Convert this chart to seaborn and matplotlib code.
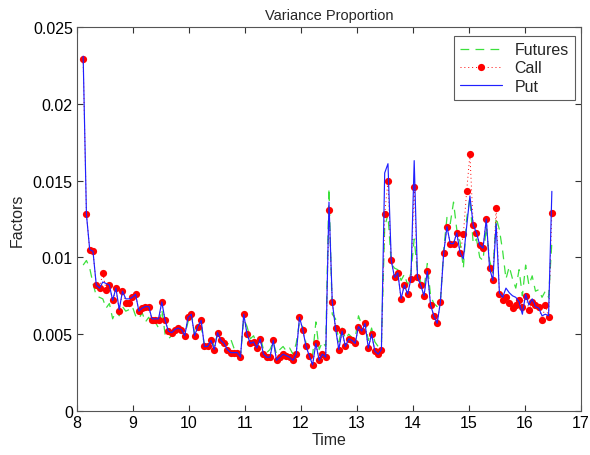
import numpy as np
import pandas as pd
import matplotlib
matplotlib.use("Agg")
import matplotlib.pyplot as plt
import seaborn as sns

# Intraday variance-proportion factors (sampled roughly every 3.5 minutes)
t_start, t_end = 8.11, 16.48

call = [
    0.0229, 0.0128, 0.0105, 0.0104, 0.0082, 0.0080, 0.0090, 0.0079, 0.0082, 0.0072,
    0.0080, 0.0065, 0.0078, 0.0070, 0.0070, 0.0074, 0.0076, 0.0065, 0.0067, 0.0068,
    0.0068, 0.0059, 0.0059, 0.0059, 0.0071, 0.0059, 0.0052, 0.0051, 0.0053, 0.0054,
    0.0053, 0.0049, 0.0061, 0.0063, 0.0049, 0.0055, 0.0059, 0.0042, 0.0042, 0.0046,
    0.0040, 0.0051, 0.0046, 0.0044, 0.0040, 0.0038, 0.0038, 0.0038, 0.0035, 0.0063,
    0.0050, 0.0044, 0.0045, 0.0041, 0.0047, 0.0037, 0.0035, 0.0035, 0.0046, 0.0033,
    0.0035, 0.0037, 0.0036, 0.0035, 0.0033, 0.0037, 0.0061, 0.0053, 0.0042, 0.0036,
    0.0030, 0.0044, 0.0033, 0.0037, 0.0035, 0.0131, 0.0071, 0.0054, 0.0040, 0.0052,
    0.0042, 0.0047, 0.0046, 0.0044, 0.0055, 0.0052, 0.0057, 0.0041, 0.0050, 0.0039,
    0.0037, 0.0040, 0.0128, 0.0150, 0.0098, 0.0087, 0.0090, 0.0073, 0.0082, 0.0076,
    0.0086, 0.0146, 0.0087, 0.0082, 0.0075, 0.0091, 0.0069, 0.0062, 0.0057, 0.0071,
    0.0103, 0.0120, 0.0109, 0.0109, 0.0116, 0.0103, 0.0115, 0.0143, 0.0167, 0.0121,
    0.0116, 0.0108, 0.0106, 0.0125, 0.0093, 0.0085, 0.0132, 0.0076, 0.0072, 0.0074,
    0.0070, 0.0067, 0.0069, 0.0072, 0.0068, 0.0075, 0.0066, 0.0071, 0.0069, 0.0068,
    0.0059, 0.0069, 0.0061, 0.0129,
]

put = [
    0.0231, 0.0128, 0.0105, 0.0104, 0.0082, 0.0080, 0.0084, 0.0083, 0.0082, 0.0072,
    0.0080, 0.0066, 0.0078, 0.0073, 0.0073, 0.0074, 0.0076, 0.0065, 0.0067, 0.0068,
    0.0068, 0.0060, 0.0060, 0.0060, 0.0071, 0.0059, 0.0052, 0.0051, 0.0053, 0.0054,
    0.0053, 0.0049, 0.0061, 0.0063, 0.0049, 0.0055, 0.0059, 0.0042, 0.0042, 0.0046,
    0.0040, 0.0051, 0.0046, 0.0044, 0.0040, 0.0038, 0.0038, 0.0038, 0.0035, 0.0063,
    0.0050, 0.0044, 0.0045, 0.0041, 0.0047, 0.0037, 0.0035, 0.0035, 0.0046, 0.0033,
    0.0035, 0.0037, 0.0036, 0.0035, 0.0033, 0.0037, 0.0061, 0.0053, 0.0042, 0.0036,
    0.0030, 0.0044, 0.0033, 0.0037, 0.0035, 0.0136, 0.0071, 0.0054, 0.0040, 0.0052,
    0.0042, 0.0047, 0.0046, 0.0044, 0.0055, 0.0052, 0.0057, 0.0041, 0.0050, 0.0039,
    0.0037, 0.0040, 0.0155, 0.0161, 0.0098, 0.0087, 0.0090, 0.0073, 0.0082, 0.0076,
    0.0086, 0.0163, 0.0087, 0.0082, 0.0075, 0.0091, 0.0069, 0.0062, 0.0057, 0.0071,
    0.0103, 0.0120, 0.0109, 0.0109, 0.0116, 0.0103, 0.0099, 0.0120, 0.0140, 0.0121,
    0.0116, 0.0108, 0.0106, 0.0125, 0.0093, 0.0085, 0.0122, 0.0077, 0.0074, 0.0080,
    0.0077, 0.0075, 0.0074, 0.0071, 0.0063, 0.0076, 0.0069, 0.0073, 0.0068, 0.0067,
    0.0062, 0.0063, 0.0062, 0.0143,
]

futures = [
    0.0095, 0.0098, 0.0093, 0.0083, 0.0075, 0.0074, 0.0073, 0.0067, 0.0070, 0.0060,
    0.0065, 0.0062, 0.0068, 0.0065, 0.0066, 0.0068, 0.0062, 0.0060, 0.0064, 0.0058,
    0.0061, 0.0056, 0.0058, 0.0054, 0.0066, 0.0050, 0.0047, 0.0049, 0.0051, 0.0050,
    0.0052, 0.0049, 0.0058, 0.0064, 0.0050, 0.0053, 0.0055, 0.0043, 0.0044, 0.0047,
    0.0042, 0.0050, 0.0047, 0.0046, 0.0043, 0.0047, 0.0041, 0.0038, 0.0036, 0.0060,
    0.0055, 0.0047, 0.0049, 0.0043, 0.0049, 0.0040, 0.0038, 0.0040, 0.0045, 0.0037,
    0.0040, 0.0042, 0.0039, 0.0041, 0.0037, 0.0044, 0.0058, 0.0055, 0.0044, 0.0040,
    0.0036, 0.0058, 0.0040, 0.0045, 0.0042, 0.0145, 0.0063, 0.0060, 0.0045, 0.0054,
    0.0047, 0.0050, 0.0048, 0.0047, 0.0062, 0.0056, 0.0058, 0.0046, 0.0054, 0.0045,
    0.0042, 0.0044, 0.0120, 0.0128, 0.0096, 0.0093, 0.0092, 0.0085, 0.0089, 0.0082,
    0.0090, 0.0112, 0.0090, 0.0084, 0.0080, 0.0096, 0.0075, 0.0070, 0.0068, 0.0072,
    0.0105, 0.0126, 0.0122, 0.0136, 0.0118, 0.0110, 0.0093, 0.0125, 0.0139, 0.0109,
    0.0112, 0.0100, 0.0098, 0.0120, 0.0098, 0.0090, 0.0126, 0.0118, 0.0104, 0.0086,
    0.0094, 0.0086, 0.0080, 0.0092, 0.0075, 0.0095, 0.0082, 0.0088, 0.0078, 0.0079,
    0.0074, 0.0078, 0.0074, 0.0110,
]

x_ticks = [8, 9, 10, 11, 12, 13, 14, 15, 16, 17]
y_ticks = [0, 0.005, 0.01, 0.015, 0.02, 0.025]
y_tick_labels = ["0", "0.005", "0.01", "0.015", "0.02", "0.025"]

time = np.linspace(t_start, t_end, len(call))
df = pd.DataFrame({"Time": time, "Futures": futures, "Call": call, "Put": put})

sns.set_style("ticks")
plt.rcParams["font.family"] = ["Liberation Sans", "DejaVu Sans"]
plt.rcParams["xtick.direction"] = "in"
plt.rcParams["ytick.direction"] = "in"

fig = plt.figure(figsize=(5.9, 4.56), dpi=100)
ax = fig.add_axes([0.1305, 0.0965, 0.8542, 0.8421])

sns.lineplot(data=df, x="Time", y="Futures", ax=ax, color="#3ce03c",
             linewidth=0.9, dashes=False, label="Futures")
ax.lines[-1].set_linestyle((0, (7, 5)))
sns.lineplot(data=df, x="Time", y="Call", ax=ax, color="#ff0000",
             linewidth=0.7, marker="o", markersize=5.2, markeredgewidth=0,
             label="Call")
ax.lines[-1].set_linestyle((0, (1, 3)))
sns.lineplot(data=df, x="Time", y="Put", ax=ax, color="#2020ff",
             linewidth=0.85, label="Put")

ax.set_xlim(8, 17)
ax.set_ylim(0, 0.025)
ax.set_xticks(x_ticks)
ax.set_xticklabels([str(v) for v in x_ticks])
ax.set_yticks(y_ticks)
ax.set_yticklabels(y_tick_labels)
ax.tick_params(axis="both", labelsize=11.5, length=4, width=0.8, colors="#333333",
               top=True, right=True, labelcolor="black", pad=3)
for side in ax.spines.values():
    side.set_visible(True)
    side.set_color("#555555")
    side.set_linewidth(0.8)

ax.set_xlabel("Time", fontsize=11.5, labelpad=1)
ax.set_ylabel("Factors", fontsize=11.5, labelpad=6)
ax.set_title("Variance Proportion", fontsize=10.5, pad=6)

leg = ax.legend(loc="upper right", fontsize=11.5, frameon=True, fancybox=False,
                edgecolor="#333333", bbox_to_anchor=(0.988, 0.977),
                borderaxespad=0.0, handlelength=2.6, labelspacing=0.2,
                borderpad=0.4)
leg.get_frame().set_linewidth(0.8)

fig.savefig("out.png", dpi=100)
